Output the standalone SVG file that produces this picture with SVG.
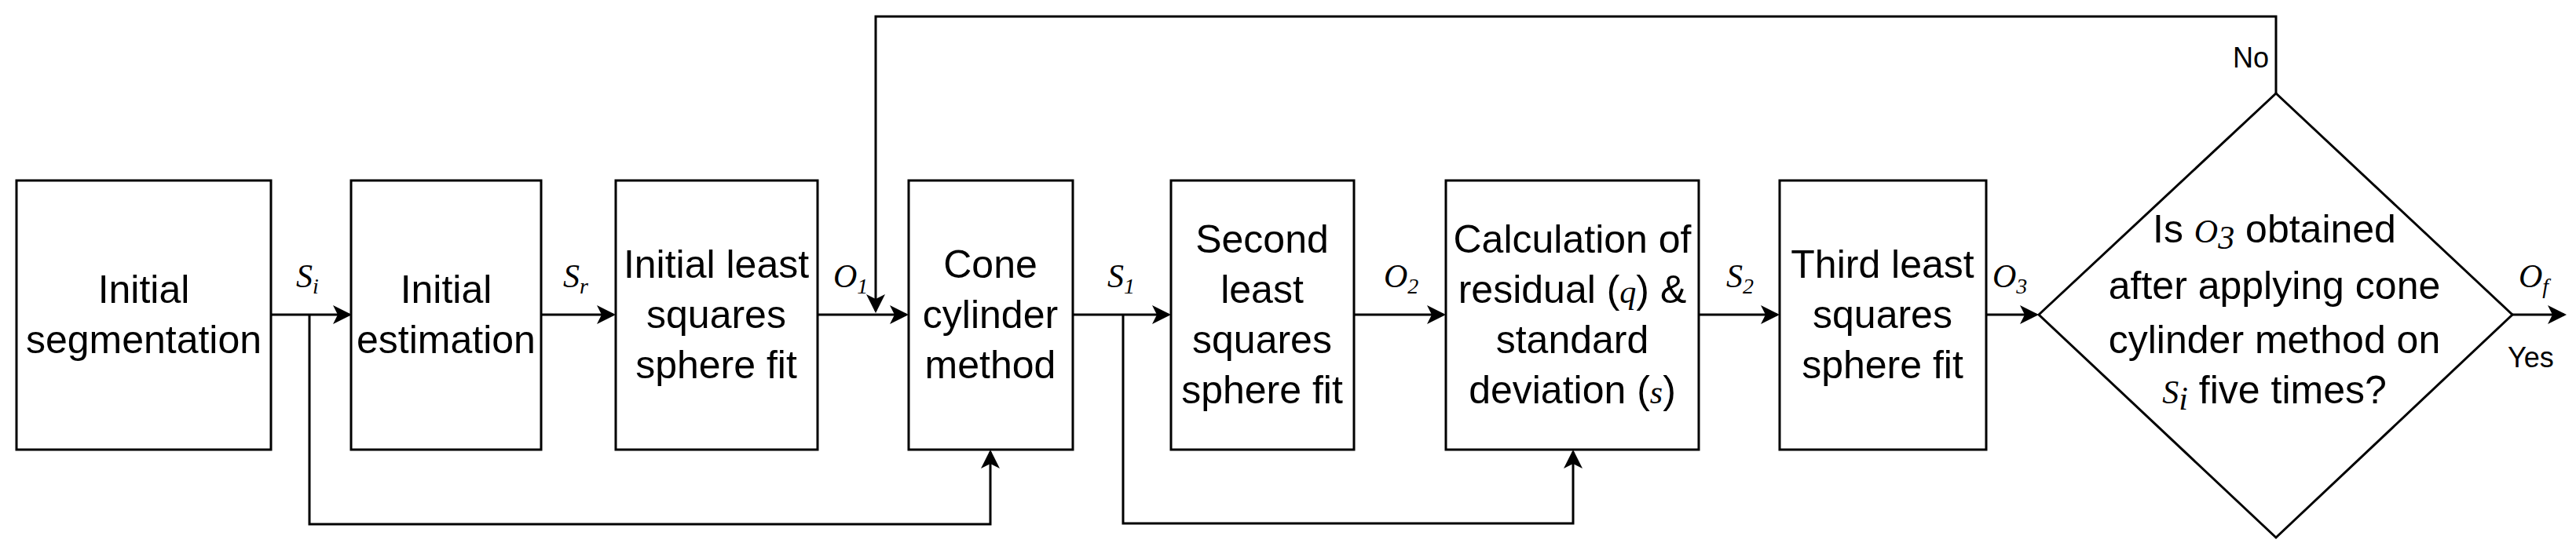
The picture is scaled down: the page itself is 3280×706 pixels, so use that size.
<svg xmlns="http://www.w3.org/2000/svg" width="3280" height="706" viewBox="0 0 3280 706">
<style>
.b{fill:#fff;stroke:#000;stroke-width:3}
.t{font-family:"Liberation Sans",Arial,sans-serif;font-size:50px;text-anchor:middle;fill:#000}
.m{font-family:"Liberation Serif","Times New Roman",serif;font-style:italic;font-size:42px;fill:#000}
.s{font-size:28px}
.y{font-family:"Liberation Sans",Arial,sans-serif;font-size:36px;fill:#000}
.c{fill:none;stroke:#000;stroke-width:3}
</style>
<defs><marker id="a" markerWidth="8" markerHeight="8" refX="7" refY="4" orient="auto" markerUnits="strokeWidth"><path d="M0,0 L8,4 L0,8 L2,4 Z" fill="#000"/></marker></defs>
<g id="connectors">
<path class="c" d="M345,401 H445" marker-end="url(#a)"/>
<path class="c" d="M689,401 H781" marker-end="url(#a)"/>
<path class="c" d="M1041,401 H1154" marker-end="url(#a)"/>
<path class="c" d="M1366,401 H1488" marker-end="url(#a)"/>
<path class="c" d="M1724,401 H1838" marker-end="url(#a)"/>
<path class="c" d="M2163,401 H2263" marker-end="url(#a)"/>
<path class="c" d="M2529,401 H2593" marker-end="url(#a)"/>
<path class="c" d="M3199,401 H3265" marker-end="url(#a)"/>
<path class="c" d="M394,401 V668 H1261 V576" marker-end="url(#a)"/>
<path class="c" d="M1430,401 V667 H2003 V576" marker-end="url(#a)"/>
<path class="c" d="M2898,119 V21 H1115 V396" marker-end="url(#a)"/>
</g>
<g id="n1"><rect class="b" x="21" y="230" width="324" height="343"/><text class="t" x="183" y="386">Initial</text><text class="t" x="183" y="450">segmentation</text></g>
<g id="n2"><rect class="b" x="447" y="230" width="242" height="343"/><text class="t" x="568" y="386">Initial</text><text class="t" x="568" y="450">estimation</text></g>
<g id="n3"><rect class="b" x="784" y="230" width="257" height="343"/><text class="t" x="912" y="354">Initial least</text><text class="t" x="912" y="418">squares</text><text class="t" x="912" y="482">sphere fit</text></g>
<g id="n4"><rect class="b" x="1157" y="230" width="209" height="343"/><text class="t" x="1261" y="354">Cone</text><text class="t" x="1261" y="418">cylinder</text><text class="t" x="1261" y="482">method</text></g>
<g id="n5"><rect class="b" x="1491" y="230" width="233" height="343"/><text class="t" x="1607" y="322">Second</text><text class="t" x="1607" y="386">least</text><text class="t" x="1607" y="450">squares</text><text class="t" x="1607" y="514">sphere fit</text></g>
<g id="n6"><rect class="b" x="1841" y="230" width="322" height="343"/><text class="t" x="2002" y="322">Calculation of</text><text class="t" x="2002" y="386">residual (<tspan class="m" font-size="50">q</tspan>) &amp;</text><text class="t" x="2002" y="450">standard</text><text class="t" x="2002" y="514">deviation (<tspan class="m" font-size="50">s</tspan>)</text></g>
<g id="n7"><rect class="b" x="2266" y="230" width="263" height="343"/><text class="t" x="2397" y="354">Third least</text><text class="t" x="2397" y="418">squares</text><text class="t" x="2397" y="482">sphere fit</text></g>
<g id="n8"><polygon class="b" points="2596,401 2898,119 3199,401 2898,685"/>
<text class="t" x="2896" y="309">Is <tspan class="m" font-size="50">O</tspan><tspan class="m" font-size="36" dy="8">3</tspan><tspan dy="-8"> obtained</tspan></text>
<text class="t" x="2896" y="381">after applying cone</text>
<text class="t" x="2896" y="450">cylinder method on</text>
<text class="t" x="2896" y="514"><tspan class="m" font-size="50">S</tspan><tspan class="m" font-size="36" dy="8">i</tspan><tspan dy="-8"> five times?</tspan></text>
</g>
<g id="labels">
<text class="m" x="377" y="366">S<tspan class="s" dy="8">i</tspan></text>
<text class="m" x="717" y="366">S<tspan class="s" dy="8">r</tspan></text>
<text class="m" x="1061" y="366">O<tspan class="s" dy="8">1</tspan></text>
<text class="m" x="1410" y="366">S<tspan class="s" dy="8">1</tspan></text>
<text class="m" x="1762" y="366">O<tspan class="s" dy="8">2</tspan></text>
<text class="m" x="2198" y="366">S<tspan class="s" dy="8">2</tspan></text>
<text class="m" x="2537" y="366">O<tspan class="s" dy="8">3</tspan></text>
<text class="m" x="3207" y="366">O<tspan class="s" dy="8">f</tspan></text>
<text class="y" x="2889" y="86" text-anchor="end">No</text>
<text class="y" x="3193" y="468">Yes</text>
</g>
</svg>
